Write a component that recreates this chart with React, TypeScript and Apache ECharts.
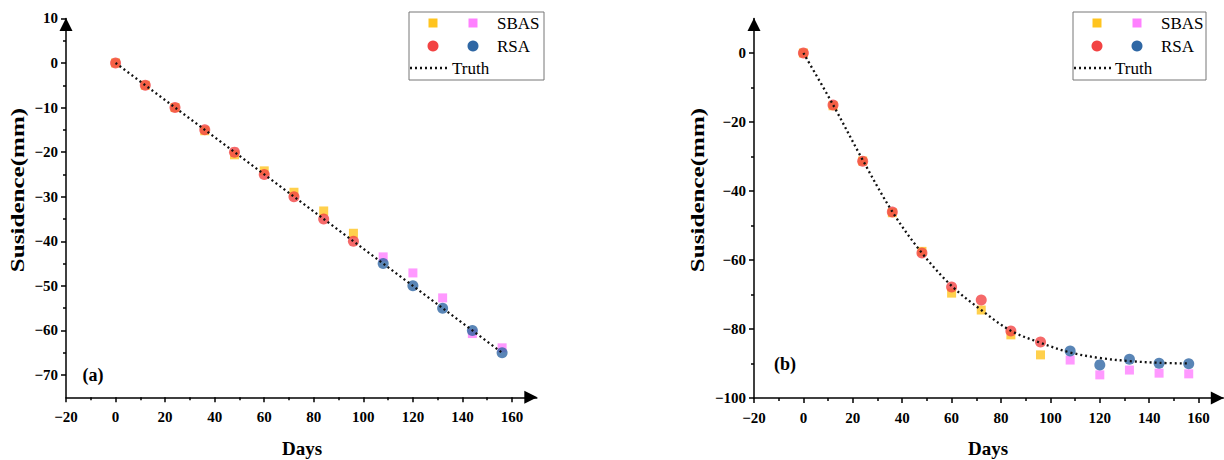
import React, { useEffect, useRef } from "react";
import * as echarts from "echarts";

// ---------- data ----------
const days = [0, 12, 24, 36, 48, 60, 72, 84, 96, 108, 120, 132, 144, 156];
const splitIndex = 9; // days 0..96 early (yellow/red), 108..156 late (pink/blue)

// panel (a)
const sbasA = [0, -5, -10, -15.2, -20.6, -24.2, -29, -33.2, -38.2, -43.5, -47.1, -52.7, -60.7, -63.9];
const rsaA = [0, -5, -10, -15, -20, -25, -30, -35, -40, -45, -50, -55, -60, -65];
const truthA = [0, -5, -10, -15, -20, -25, -30, -35, -40, -45, -50, -55, -60, -65];

// panel (b)
const sbasB = [0, -15.3, -31.3, -46.3, -57.5, -69.6, -74.5, -81.7, -87.5, -89, -93.3, -91.9, -92.8, -93];
const rsaB = [0, -15.1, -31.4, -46.1, -58, -67.8, -71.6, -80.6, -83.8, -86.4, -90.4, -88.8, -89.9, -90.1];
const truthB = [0, -15, -31, -46, -58, -67.5, -74.5, -80.5, -84, -86.8, -88.4, -89.3, -89.8, -90];

// ticks
const xMajor = [-20, 0, 20, 40, 60, 80, 100, 120, 140, 160];
const xMinor = [-10, 10, 30, 50, 70, 90, 110, 130, 150];
const yMajorA = [10, 0, -10, -20, -30, -40, -50, -60, -70];
const yMinorA = [5, -5, -15, -25, -35, -45, -55, -65];
const yMajorB = [0, -20, -40, -60, -80, -100];
const yMinorB = [-10, -30, -50, -70, -90];

const YELLOW = "#FFC41F";
const PINK = "#FF80FF";
const RED = "#F24343";
const BLUE = "#2F67A4";
const FONT = "Liberation Serif";

const fmt = (v: number) => (v < 0 ? "\u2212" + Math.abs(v) : String(v));

function pairs(ys: number[], from: number, to: number) {
  return days.slice(from, to).map((d, i) => [d, ys[from + i]]);
}

function mainAxis(gridIndex: number, min: number, max: number, labels: number[], pos: string) {
  return {
    gridIndex,
    type: "value",
    position: pos,
    min,
    max,
    axisLine: {
      show: true,
      onZero: false,
      lineStyle: { color: "#000", width: 1.5 },
      symbol: ["none", "triangle"],
      symbolSize: [13, 13],
      symbolOffset: [0, -6],
    },
    axisTick: { show: true, customValues: labels, length: 5, lineStyle: { color: "#000", width: 1.5 } },
    axisLabel: {
      show: true,
      customValues: labels,
      formatter: fmt,
      color: "#000",
      fontFamily: FONT,
      fontWeight: "bold",
      fontSize: 15,
      margin: pos === "bottom" ? 12 : 8,
    },
    splitLine: { show: false },
  };
}

function minorAxis(gridIndex: number, min: number, max: number, vals: number[], pos: string) {
  return {
    gridIndex,
    type: "value",
    position: pos,
    min,
    max,
    axisLine: { show: false, onZero: false },
    axisTick: { show: true, customValues: vals, length: 3, lineStyle: { color: "#000", width: 1.5 } },
    axisLabel: { show: false },
    splitLine: { show: false },
  };
}

function panelSeries(xi: number, yi: number, sbas: number[], rsa: number[], truth: number[], smooth: number | boolean) {
  return [
    { type: "scatter", name: "SBAS", xAxisIndex: xi, yAxisIndex: yi, symbol: "rect", symbolSize: 9, z: 2,
      itemStyle: { color: YELLOW }, data: pairs(sbas, 0, splitIndex) },
    { type: "scatter", name: "SBAS", xAxisIndex: xi, yAxisIndex: yi, symbol: "rect", symbolSize: 9, z: 2,
      itemStyle: { color: PINK }, data: pairs(sbas, splitIndex, days.length) },
    { type: "scatter", name: "RSA", xAxisIndex: xi, yAxisIndex: yi, symbol: "circle", symbolSize: 11, z: 3,
      itemStyle: { color: RED }, data: pairs(rsa, 0, splitIndex) },
    { type: "scatter", name: "RSA", xAxisIndex: xi, yAxisIndex: yi, symbol: "circle", symbolSize: 11, z: 3,
      itemStyle: { color: BLUE }, data: pairs(rsa, splitIndex, days.length) },
    { type: "line", name: "Truth", xAxisIndex: xi, yAxisIndex: yi, showSymbol: false, smooth, z: 4,
      lineStyle: { color: "#111", width: 2.3, type: [2, 3] }, data: pairs(truth, 0, days.length) },
  ];
}

function legend(left: number, lineEnd: number, truthX: number, boxW: number) {
  const sq = 9;
  const c1 = left + 24, c2 = left + 64, tx = left + 88;
  return [
    { type: "rect", shape: { x: left, y: 12, width: boxW, height: 68 }, style: { fill: "#fff", stroke: "#777", lineWidth: 1 }, z: 10 },
    { type: "rect", shape: { x: c1 - sq / 2, y: 23 - sq / 2, width: sq, height: sq }, style: { fill: YELLOW }, z: 11 },
    { type: "rect", shape: { x: c2 - sq / 2, y: 23 - sq / 2, width: sq, height: sq }, style: { fill: PINK }, z: 11 },
    { type: "text", x: tx, y: 23, style: { text: "SBAS", fontFamily: FONT, fontSize: 17, fill: "#000", align: "left", verticalAlign: "middle" }, z: 11 },
    { type: "circle", shape: { cx: c1, cy: 46, r: 5.5 }, style: { fill: RED }, z: 11 },
    { type: "circle", shape: { cx: c2, cy: 46, r: 5.5 }, style: { fill: BLUE }, z: 11 },
    { type: "text", x: tx, y: 46, style: { text: "RSA", fontFamily: FONT, fontSize: 17, fill: "#000", align: "left", verticalAlign: "middle" }, z: 11 },
    { type: "line", shape: { x1: left + 1, y1: 68, x2: lineEnd, y2: 68 }, style: { stroke: "#111", lineWidth: 2.3, lineDash: [2, 3] }, z: 11 },
    { type: "text", x: truthX, y: 68, style: { text: "Truth", fontFamily: FONT, fontSize: 17, fill: "#000", align: "left", verticalAlign: "middle" }, z: 11 },
  ];
}

function boldText(text: string, x: number, y: number, size: number, rotation = 0, scaleX = 1) {
  return {
    type: "text", x, y, rotation, scaleX, z: 12,
    style: { text, fontFamily: FONT, fontWeight: "bold", fontSize: size, fill: "#000", align: "center", verticalAlign: "middle" },
  };
}

export default function App() {
  const ref = useRef<HTMLDivElement>(null);
  useEffect(() => {
    const chart = echarts.init(ref.current!, null, { renderer: "svg" });
    const option = {
      animation: false,
      backgroundColor: "#fff",
      grid: [
        { left: 66, top: 18.4, width: 470.8, height: 378.9 },
        { left: 754, top: 18.5, width: 469.3, height: 379.5 },
      ],
      xAxis: [
        mainAxis(0, -20, 170, xMajor, "bottom"),
        minorAxis(0, -20, 170, xMinor, "bottom"),
        mainAxis(1, -20, 170, xMajor, "bottom"),
        minorAxis(1, -20, 170, xMinor, "bottom"),
      ],
      yAxis: [
        mainAxis(0, -75, 10, yMajorA, "left"),
        minorAxis(0, -75, 10, yMinorA, "left"),
        mainAxis(1, -100, 10, yMajorB, "left"),
        minorAxis(1, -100, 10, yMinorB, "left"),
      ],
      series: [
        ...panelSeries(0, 0, sbasA, rsaA, truthA, false),
        ...panelSeries(2, 2, sbasB, rsaB, truthB, 0.35),
      ],
      graphic: [
        ...legend(409, 450, 452, 135),
        ...legend(1073, 1112, 1115, 133),
        boldText("Days", 302, 448, 19),
        boldText("Days", 988, 448, 19),
        boldText("Susidence(mm)", 18, 190, 19, Math.PI / 2, 1.32),
        boldText("Susidence(mm)", 698, 190, 19, Math.PI / 2, 1.32),
        boldText("(a)", 93, 375, 18),
        boldText("(b)", 785, 364, 18),
      ],
    };
    chart.setOption(option as any);
    return () => chart.dispose();
  }, []);
  return (
    <div
      ref={ref}
      style={{ position: "absolute", left: 0, top: 0, width: 1224, height: 460, background: "#fff" }}
    />
  );
}
